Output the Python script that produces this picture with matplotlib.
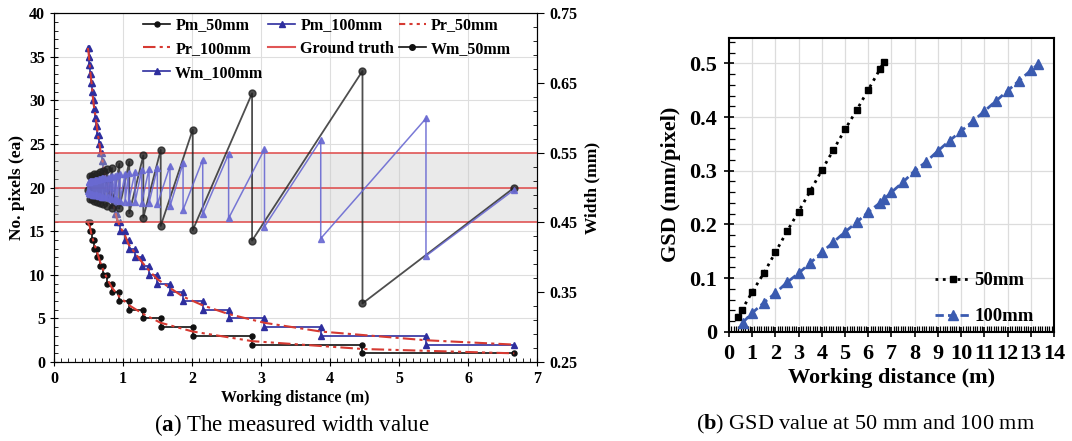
import matplotlib
matplotlib.use('Agg')
import matplotlib.pyplot as plt
from matplotlib.ticker import MultipleLocator
from matplotlib.lines import Line2D

plt.rcParams['font.family'] = ['Liberation Serif', 'DejaVu Serif']
plt.rcParams['font.weight'] = 'bold'
plt.rcParams['axes.labelweight'] = 'bold'
plt.rcParams['mathtext.fontset'] = 'custom'
plt.rcParams['mathtext.rm'] = 'Liberation Serif'
plt.rcParams['mathtext.bf'] = 'Liberation Serif:bold'

# ---- (a) measured pixel counts / widths vs working distance ----
# distances where the pixel count changes (first = start, last = end)
edges_50 = [0.49, 0.52, 0.546, 0.584, 0.628, 0.667, 0.715, 0.773, 0.84, 0.946,
            1.09, 1.294, 1.546, 2.01, 2.87, 4.47, 6.67]
levels_50 = [16, 15, 14, 13, 12, 11, 10, 9, 8, 7, 6, 5, 4, 3, 2, 1]
pr_50 = [16.0, 15.5, 14.5, 13.5, 12.5, 11.5, 10.5, 9.5, 8.5, 7.5,
         6.5, 5.5, 4.5, 3.5, 2.4, 1.5, 1.0]
wm50_start, wm50_end = 0.497, 0.50
wm50_hi = [0.516, 0.517, 0.519, 0.520, 0.522, 0.524, 0.526, 0.528, 0.534,
           0.537, 0.546, 0.554, 0.583, 0.635, 0.667]
wm50_lo = [0.484, 0.483, 0.481, 0.480, 0.478, 0.476, 0.474, 0.471, 0.470,
           0.463, 0.457, 0.445, 0.439, 0.424, 0.334]

edges_100 = [0.49, 0.50, 0.512, 0.522, 0.536, 0.551, 0.561, 0.575, 0.594, 0.613,
             0.628, 0.648, 0.667, 0.691, 0.716, 0.744, 0.776, 0.81, 0.843, 0.88,
             0.908, 0.957, 1.03, 1.08, 1.174, 1.27, 1.377, 1.497, 1.68, 1.87,
             2.155, 2.53, 3.05, 3.865, 5.39, 6.67]
levels_100 = [36, 35, 34, 33, 32, 31, 30, 29, 28, 27, 26, 25, 24, 23, 22, 21, 20,
              19, 18, 17, 16, 15, 14, 13, 12, 11, 10, 9, 8, 7, 6, 5, 4, 3, 2]
pr_100 = [36.0, 35.5, 34.5, 33.5, 32.5, 31.5, 30.5, 29.5, 28.5, 27.5, 26.5, 25.5,
          24.5, 23.5, 22.5, 21.5, 20.5, 19.5, 18.5, 17.5, 16.5, 15.5, 14.5, 13.5,
          12.5, 11.5, 10.5, 9.5, 8.5, 7.5, 6.5, 5.5, 4.5, 3.5, 2.5, 2.0]
wm100_start, wm100_end = 0.495, 0.497
wm100_hi = [0.508, 0.508, 0.509, 0.509, 0.509, 0.510, 0.510, 0.511, 0.511, 0.511,
            0.512, 0.512, 0.513, 0.513, 0.514, 0.514, 0.515, 0.516, 0.517, 0.518,
            0.519, 0.520, 0.521, 0.523, 0.525, 0.527, 0.528, 0.531, 0.535, 0.540,
            0.548, 0.555, 0.568, 0.599]
wm100_lo = [0.492, 0.492, 0.491, 0.491, 0.491, 0.490, 0.490, 0.489, 0.489, 0.489,
            0.488, 0.488, 0.487, 0.487, 0.486, 0.486, 0.485, 0.484, 0.483, 0.482,
            0.481, 0.480, 0.479, 0.479, 0.478, 0.478, 0.476, 0.473, 0.468, 0.462,
            0.456, 0.444, 0.427, 0.402]
ground_truth = [0.45, 0.50, 0.55]

# ---- (b) GSD vs working distance ----
gsd50_x = [0.37, 0.56, 1.0, 1.5, 2.0, 2.5, 3.0, 3.5, 4.0, 4.5, 5.0, 5.5, 6.0, 6.5, 6.67]
gsd50_y = [0.028, 0.041, 0.074, 0.109, 0.148, 0.187, 0.224, 0.262, 0.301, 0.339,
           0.377, 0.413, 0.451, 0.489, 0.503]
gsd100_x = [0.59, 1.0, 1.5, 2.0, 2.5, 3.0, 3.5, 4.0, 4.5, 5.0, 5.5, 6.0, 6.5, 6.67,
            7.0, 7.5, 8.0, 8.5, 9.0, 9.5, 10.0, 10.5, 11.0, 11.5, 12.0, 12.5, 13.0, 13.33]
gsd100_y = [0.017, 0.035, 0.054, 0.072, 0.092, 0.109, 0.128, 0.148, 0.167, 0.186,
            0.204, 0.223, 0.240, 0.247, 0.260, 0.279, 0.300, 0.317, 0.337, 0.356,
            0.374, 0.392, 0.411, 0.430, 0.449, 0.468, 0.487, 0.499]


def steps(edges, levels):
    xs, ys = [], []
    for i, n in enumerate(levels):
        xs += [edges[i], edges[i + 1]]
        ys += [n, n]
    return xs, ys


def zigzag(edges, start, hi, lo, end):
    xs, ys = [edges[0]], [start]
    for e, h, l in zip(edges[1:-1], hi, lo):
        xs += [e, e]
        ys += [h, l]
    xs.append(edges[-1])
    ys.append(end)
    return xs, ys


def bold_ticks(a):
    for t in a.get_xticklabels() + a.get_yticklabels():
        t.set_fontweight('bold')


fig = plt.figure(figsize=(10.72, 4.41), dpi=100)

# ================= (a) =================
ax = fig.add_axes([0.0504, 0.179, 0.4506, 0.7914])
ax2 = ax.twinx()

red = '#d63a32'
ax2.axhspan(ground_truth[0], ground_truth[2], color='#c8c8c8', alpha=0.38, lw=0, zorder=0)
for g in ground_truth:
    ax2.axhline(g, color='#e05555', lw=1.2, zorder=1)

x, y = steps(edges_50, levels_50)
ax.plot(x, y, '-o', color='#111111', ms=3.6, lw=1.2, zorder=4)
x, y = steps(edges_100, levels_100)
ax.plot(x, y, '-^', color='#2e2e9e', ms=3.8, lw=1.2, zorder=4)
ax.plot(edges_50, pr_50, color=red, lw=1.5, ls=(0, (6, 2, 1.5, 2, 1.5, 2)), zorder=5)
ax.plot(edges_100, pr_100, color=red, lw=1.5, ls=(0, (6, 2, 1.5, 2)), zorder=5)

x, y = zigzag(edges_50, wm50_start, wm50_hi, wm50_lo, wm50_end)
ax2.plot(x, y, '-o', color='#222222', ms=5, lw=1.3, alpha=0.8, zorder=3)
x, y = zigzag(edges_100, wm100_start, wm100_hi, wm100_lo, wm100_end)
ax2.plot(x, y, '-^', color='#6a6ad2', ms=4.3, lw=1.1, alpha=0.9, zorder=4)

ax.set_xlim(0, 7)
ax.set_ylim(0, 40)
ax2.set_ylim(0.25, 0.75)
ax.xaxis.set_major_locator(MultipleLocator(1))
ax.xaxis.set_minor_locator(MultipleLocator(0.1))
ax.yaxis.set_major_locator(MultipleLocator(5))
ax.yaxis.set_minor_locator(MultipleLocator(1))
ax2.yaxis.set_minor_locator(MultipleLocator(0.02, offset=0.01))
ax2.set_yticks([0.25, 0.35, 0.45, 0.55, 0.65, 0.75])
ax2.set_yticklabels(['0.25', '0.35', '0.45', '0.55', '0.65', '0.75'])
ax.grid(True, which='major', color='#dedede', lw=0.8)
ax.set_axisbelow(True)
ax.tick_params(which='major', direction='inout', length=6, labelsize=11.5, width=0.8)
ax.tick_params(which='minor', direction='in', length=3, width=0.6)
ax2.tick_params(which='major', direction='out', length=5, labelsize=11.5, width=0.8)
ax2.tick_params(which='minor', direction='in', length=3, width=0.6)
ax.set_xlabel('Working distance (m)', fontsize=11.5, labelpad=2)
ax.set_ylabel('No. pixels (ea)', fontsize=12.5, labelpad=3)
ax2.set_ylabel('Width (mm)', fontsize=12.5, labelpad=5)
bold_ticks(ax)
bold_ticks(ax2)

h = [Line2D([], [], color='#111111', marker='o', ms=3.6, lw=1.2),
     Line2D([], [], color=red, lw=1.5, ls=(0, (6, 2, 1.5, 2))),
     Line2D([], [], color='#2e2e9e', marker='^', ms=3.8, lw=1.2),
     Line2D([], [], color='#2e2e9e', marker='^', ms=3.8, lw=1.2),
     Line2D([], [], color='#e05555', lw=1.5),
     Line2D([], [], color=red, lw=1.5, ls=(0, (3, 2, 1.5, 2, 1.5, 2))),
     Line2D([], [], color='#111111', marker='o', ms=4, lw=1.2)]
lab = ['Pm_50mm', 'Pr_100mm', 'Wm_100mm', 'Pm_100mm', 'Ground truth', 'Pr_50mm', 'Wm_50mm']
ax2.legend(h, lab, ncol=3, loc='upper left', bbox_to_anchor=(0.165, 1.015), frameon=False,
           fontsize=11.5, handlelength=1.7, handletextpad=0.3, columnspacing=0.3,
           labelspacing=0.48, borderaxespad=0.2)

# ================= (b) =================
ax3 = fig.add_axes([0.680, 0.2478, 0.3032, 0.6667])
ax3.plot(gsd50_x, gsd50_y, ls=':', marker='s', color='black', ms=5, lw=2, label='50mm')
ax3.plot(gsd100_x, gsd100_y, ls=(0, (3, 1.5)), marker='^', color='#3b5bb0', ms=7.5,
         lw=2, label='100mm')
ax3.set_xlim(0, 14)
ax3.set_ylim(0, 0.548)
ax3.xaxis.set_major_locator(MultipleLocator(1))
ax3.xaxis.set_minor_locator(MultipleLocator(0.1))
ax3.yaxis.set_major_locator(MultipleLocator(0.1))
ax3.yaxis.set_minor_locator(MultipleLocator(0.02))
ax3.yaxis.set_major_formatter(plt.FuncFormatter(lambda v, p: '0' if v == 0 else f'{v:g}'))
ax3.grid(True, which='major', color='#dcdcdc', lw=0.9)
ax3.set_axisbelow(True)
for s in ax3.spines.values():
    s.set_linewidth(1.5)
ax3.tick_params(which='major', direction='inout', length=7, labelsize=16, width=1.2, pad=5)
ax3.tick_params(which='minor', direction='in', length=4, width=0.9)
ax3.set_xlabel('Working distance (m)', fontsize=16, labelpad=3)
ax3.set_ylabel('GSD (mm/pixel)', fontsize=16, labelpad=6)
bold_ticks(ax3)
ax3.legend(loc='lower right', bbox_to_anchor=(0.99, -0.035), frameon=False,
           prop={'size': 13.5, 'weight': 'bold'},
           handlelength=1.9, handletextpad=0.2, labelspacing=1.0)

# captions
fig.text(0.272, 0.037, r'($\mathbf{a}$) The measured width value', fontsize=16.5,
         fontweight='normal', ha='center', va='center')
fig.text(0.807, 0.037, r'($\mathbf{b}$) GSD value at 50 mm and 100 mm', fontsize=16,
         fontweight='normal', ha='center', va='center')

fig.savefig('out.png', dpi=100)
